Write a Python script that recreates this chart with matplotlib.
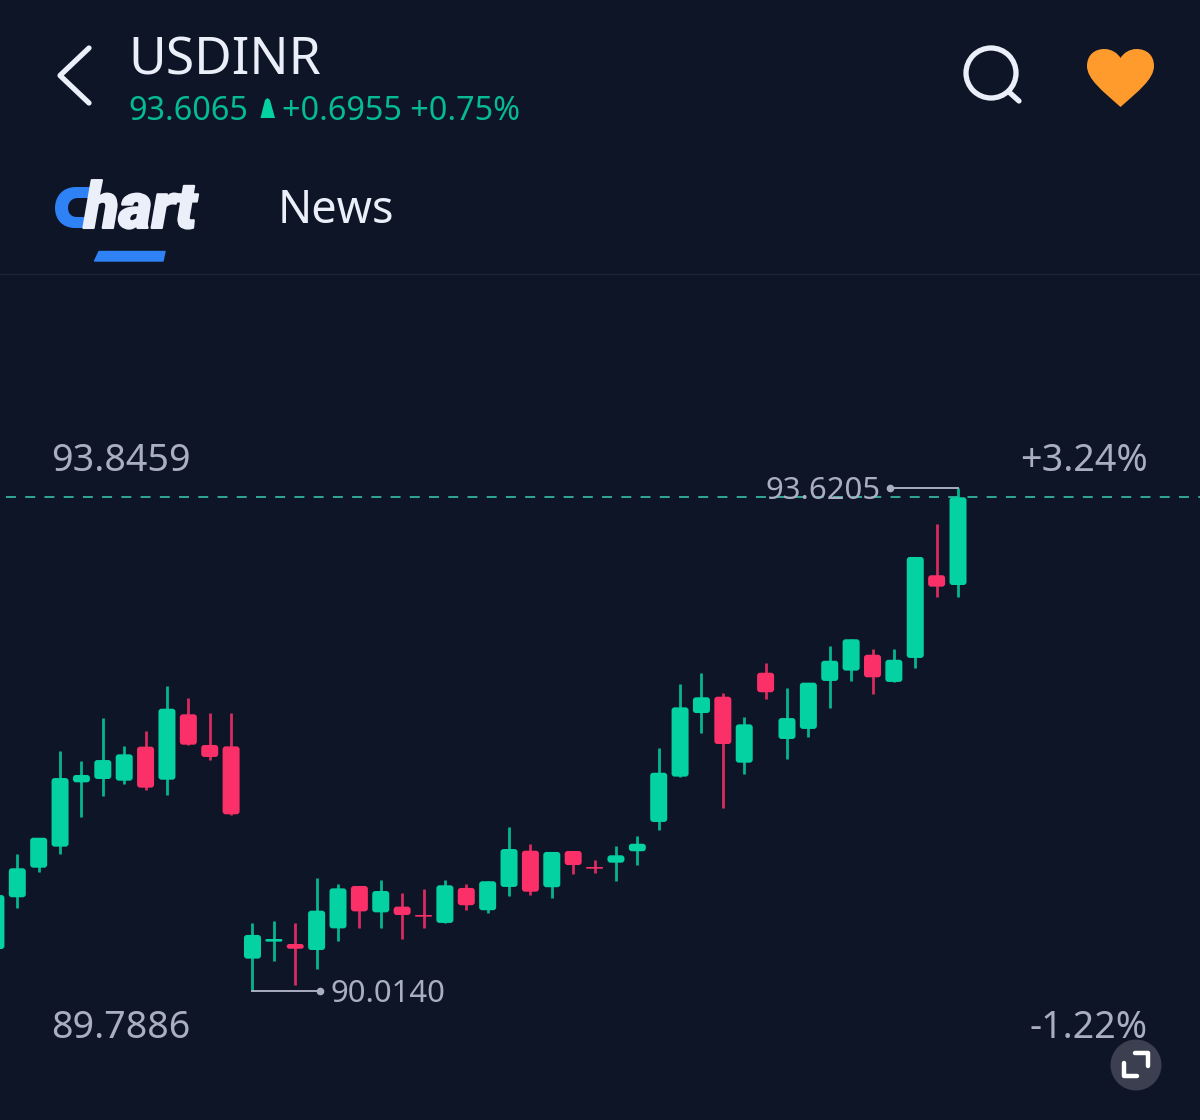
#!/usr/bin/env python3
import matplotlib
matplotlib.use("Agg")
import matplotlib.pyplot as plt
import matplotlib.patheffects as pe
from matplotlib.patches import Circle, FancyBboxPatch, PathPatch, Polygon
from matplotlib.path import Path
import numpy as np

# candle data
opens = [90.315, 90.686, 90.898, 91.049, 91.510, 91.534, 91.522, 91.766, 91.529, 91.998, 91.778, 91.768,
         90.246, 90.368, 90.351, 90.308, 90.463, 90.767, 90.578, 90.619, 90.559, 90.502, 90.753, 90.593,
         90.760, 91.020, 90.758, 91.018, 90.903, 90.934, 91.016, 91.226, 91.551, 92.007, 92.124, 91.651,
         92.296, 91.821, 91.893, 92.237, 92.311, 92.425, 92.230, 92.402, 92.995, 92.925]
highs = [90.702, 90.996, 91.113, 91.735, 91.663, 91.969, 91.771, 91.880, 92.203, 92.113, 92.009, 92.009,
         90.504, 90.518, 90.504, 90.826, 90.778, 90.767, 90.810, 90.715, 90.743, 90.810, 90.783, 90.801,
         91.192, 91.070, 91.011, 91.018, 90.951, 91.056, 91.123, 91.754, 92.215, 92.296, 92.148, 91.981,
         92.364, 92.189, 92.225, 92.488, 92.536, 92.468, 92.464, 93.126, 93.362, 93.6205]
lows = [90.315, 90.609, 90.869, 90.998, 91.264, 91.410, 91.498, 91.457, 91.419, 91.780, 91.672, 91.276,
        90.014, 90.229, 90.057, 90.172, 90.370, 90.468, 90.466, 90.389, 90.468, 90.502, 90.593, 90.573,
        90.693, 90.705, 90.679, 90.851, 90.862, 90.803, 90.915, 91.166, 91.551, 91.866, 91.328, 91.570,
        92.106, 91.675, 91.833, 92.045, 92.237, 92.141, 92.230, 92.330, 92.841, 92.841]
closes = [90.702, 90.894, 91.113, 91.541, 91.563, 91.670, 91.711, 91.472, 92.038, 91.780, 91.692, 91.281,
          90.416, 90.387, 90.317, 90.590, 90.750, 90.585, 90.731, 90.559, 90.547, 90.772, 90.629, 90.801,
          91.032, 90.726, 91.011, 90.917, 90.891, 90.987, 91.070, 91.579, 92.048, 92.120, 91.785, 91.926,
          92.156, 91.971, 92.225, 92.382, 92.536, 92.263, 92.389, 93.126, 92.913, 93.554]
# red candles; a few open and close almost level, so the colour is read, not derived
is_red = [7, 9, 10, 11, 14, 17, 19, 20, 22, 25, 27, 28, 34, 36, 41, 44]

symbol = "USDINR"
last_price = "93.6065"
change_text = "+0.6955 +0.75%"
tab_labels = ["hart", "News"]
y_top_label, y_bottom_label = "93.8459", "89.7886"
pct_top_label, pct_bottom_label = "+3.24%", "-1.22%"
max_label, min_label = "93.6205", "90.0140"

BG = "#0E1526"
GREEN = "#05D2A3"
RED = "#FB3069"
GREY = "#A9AEC1"
WHITE = "#EBEFF9"
BLUE = "#2F82F6"
ORANGE = "#FE9B2C"

W, H = 1200, 1120
PX_PER_PRICE = 139.47
PX_PER_BAR = 21.38
FONT = "Noto Sans"

fig = plt.figure(figsize=(W / 100, H / 100), dpi=100, facecolor=BG)

# chart axes fill the whole picture
ax = fig.add_axes([0, 0, 1, 1])
ax.set_facecolor(BG)
ax.set_xlim(4.08 / PX_PER_BAR, (W + 4.08) / PX_PER_BAR)
price_at_top = 90.014 + 991 / PX_PER_PRICE
ax.set_ylim(price_at_top - H / PX_PER_PRICE, price_at_top)
ax.axis("off")

aspect = PX_PER_BAR / PX_PER_PRICE
for i in range(len(opens)):
    c = RED if i in is_red else GREEN
    ax.plot([i, i], [lows[i], highs[i]], color=c, lw=2.0, solid_capstyle="butt", alpha=0.85, zorder=2)
    lo, hi = min(opens[i], closes[i]), max(opens[i], closes[i])
    h_px = (hi - lo) * PX_PER_PRICE
    r = min(3.0, h_px / 2) / PX_PER_BAR
    w = 17.0 / PX_PER_BAR
    ax.add_patch(FancyBboxPatch((i - w / 2 + r, lo + r * aspect), w - 2 * r, (hi - lo) - 2 * r * aspect,
                                boxstyle=f"round,pad={r},rounding_size={r}", mutation_aspect=aspect,
                                fc=c, ec="none", zorder=3))

# last price dashed line
ax.plot([10 / PX_PER_BAR, (W + 4) / PX_PER_BAR], [closes[-1], closes[-1]], color="#33B3A0", lw=1.3,
        dashes=(5.5, 5.15), zorder=1)

# leaders to the max and min labels
top_i = int(np.argmax(highs))
low_i = int(np.argmin(lows))
ax.plot([top_i, top_i - 68 / PX_PER_BAR], [highs[top_i], highs[top_i]], color=GREY, lw=1.4, zorder=2)
ax.plot([top_i - 68 / PX_PER_BAR], [highs[top_i]], "o", color=GREY, ms=5.5, mec="none", zorder=2)
ax.plot([low_i, low_i + 68 / PX_PER_BAR], [lows[low_i], lows[low_i]], color=GREY, lw=1.4, zorder=2)
ax.plot([low_i + 68 / PX_PER_BAR], [lows[low_i]], "o", color=GREY, ms=5.5, mec="none", zorder=2)

# app chrome sits on a pixel-coordinate layer
ui = fig.add_axes([0, 0, 1, 1])
ui.set_xlim(0, W)
ui.set_ylim(H, 0)
ui.axis("off")
ui.patch.set_alpha(0)

ui.plot([0, W], [274, 274], color="#1D2435", lw=1)

# back arrow
ui.plot([89, 60, 89], [48, 75.5, 103], color=WHITE, lw=3.8, solid_capstyle="round", solid_joinstyle="round")

ui.text(128.5, 74.5, symbol, color=WHITE, fontsize=37.2, family=FONT, weight="medium", ha="left", va="baseline")
ui.text(128, 120, last_price, color=GREEN, alpha=0.88, fontsize=23.3, family=FONT, ha="left", va="baseline")
ui.add_patch(Polygon([[267.5, 98], [270, 100], [275, 118], [260.5, 118], [265, 100]], closed=True, fc=GREEN, ec="none"))
ui.text(282, 120, change_text, color=GREEN, alpha=0.88, fontsize=23.3, family=FONT, ha="left", va="baseline")

# search icon
ui.add_patch(Circle((991, 73), 25, fc="none", ec=WHITE, lw=3.8))
ui.plot([1009, 1019], [92, 101], color=WHITE, lw=3.8, solid_capstyle="round")

# heart
hx, hy = 1120.5, 107
heart = Path(
    [(hx, hy), (hx - 18, hy - 16), (hx - 33.5, hy - 28), (hx - 33.5, hy - 41),
     (hx - 33.5, hy - 52), (hx - 26, hy - 58), (hx - 16, hy - 58),
     (hx - 9, hy - 58), (hx - 3, hy - 54), (hx, hy - 49),
     (hx + 3, hy - 54), (hx + 9, hy - 58), (hx + 16, hy - 58),
     (hx + 26, hy - 58), (hx + 33.5, hy - 52), (hx + 33.5, hy - 41),
     (hx + 33.5, hy - 28), (hx + 18, hy - 16), (hx, hy)],
    [Path.MOVETO] + [Path.CURVE4] * 18)
ui.add_patch(PathPatch(heart, fc=ORANGE, ec="none"))

# tabs: the blue C of the logo is a drawn shape
logo_c = Path(
    [(91, 187), (76, 187), (76, 187), (76, 187),
     (62, 187), (55, 197), (55, 208),
     (55, 220), (63, 228), (75, 228),
     (85, 228), (85, 228), (85, 228),
     (87, 217), (87, 217), (87, 217),
     (77, 217), (77, 217), (77, 217),
     (71, 217), (68, 213), (68, 208),
     (68, 202), (72, 198), (78, 198),
     (89, 198), (89, 198), (89, 198),
     (91, 187), (91, 187), (91, 187)],
    [Path.MOVETO] + [Path.CURVE4] * 30)
ui.add_patch(PathPatch(logo_c, fc=BLUE, ec="none"))
ui.text(84, 228, tab_labels[0], color=WHITE, fontsize=46, family="Roboto", weight="black", style="italic",
        ha="left", va="baseline", path_effects=[pe.withStroke(linewidth=1.5, foreground=WHITE)])
ui.text(278, 223, tab_labels[1], color=WHITE, fontsize=32.4, family=FONT, ha="left", va="baseline")
ui.add_patch(Polygon([[94.5, 261], [99, 251.5], [165, 251.5], [163, 261]], closed=True, fc=BLUE, ec=BLUE, lw=1,
                     joinstyle="round"))

# axis labels
ui.text(51, 471, y_top_label, color=GREY, fontsize=27.1, family=FONT, ha="left", va="baseline")
ui.text(51, 1038.5, y_bottom_label, color=GREY, fontsize=27.1, family=FONT, ha="left", va="baseline")
ui.text(1148, 471, pct_top_label, color=GREY, fontsize=27.1, family=FONT, ha="right", va="baseline")
ui.text(1148, 1038.5, pct_bottom_label, color=GREY, fontsize=27.1, family=FONT, ha="right", va="baseline")
ui.text(881, 499, max_label, color=GREY, fontsize=22.4, family=FONT, ha="right", va="baseline")
ui.text(330, 1002, min_label, color=GREY, fontsize=22.4, family=FONT, ha="left", va="baseline")

# fullscreen button
ui.add_patch(Circle((1136, 1065), 25.5, fc="#3B3F50", ec="none"))
ui.plot([1124, 1124, 1137], [1063, 1076, 1076], color="white", lw=3.2, solid_capstyle="round", solid_joinstyle="round")
ui.plot([1135, 1148, 1148], [1053, 1053, 1066], color="white", lw=3.2, solid_capstyle="round", solid_joinstyle="round")

fig.savefig("out.png", dpi=100, facecolor=BG)
